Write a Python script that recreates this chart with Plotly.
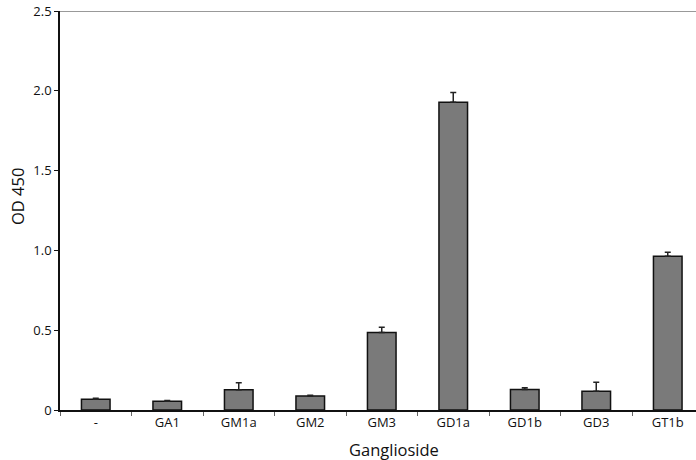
import plotly.graph_objects as go

categories = ["-", "GA1", "GM1a", "GM2", "GM3", "GD1a", "GD1b", "GD3", "GT1b"]
od_values = [0.068, 0.055, 0.127, 0.088, 0.485, 1.928, 0.128, 0.117, 0.963]
err_plus = [0.005, 0.004, 0.043, 0.004, 0.033, 0.062, 0.012, 0.057, 0.025]
y_ticks = [0, 0.5, 1.0, 1.5, 2.0, 2.5]
y_tick_labels = ["0", "0.5", "1.0", "1.5", "2.0", "2.5"]

fig = go.Figure()
fig.add_trace(go.Bar(
    x=categories, y=od_values,
    marker=dict(color="#7a7a7a", line=dict(color="#111111", width=1.5)),
    width=0.4,
    error_y=dict(type="data", symmetric=False, array=err_plus,
                 arrayminus=[0] * len(err_plus),
                 color="#222222", thickness=1.5, width=3),
))

font = "Open Sans, Lato, sans-serif"
fig.update_layout(
    width=696, height=460,
    margin=dict(l=60, r=0, t=11, b=50),
    paper_bgcolor="white", plot_bgcolor="white",
    showlegend=False,
    font=dict(family=font, size=13, color="#111111"),
    xaxis=dict(
        type="category",
        range=[-0.5, -0.5 + 636 / 71.5],
        showline=True, linecolor="#111111", linewidth=1.5,
        ticks="outside", tickson="boundaries", ticklen=4, tickcolor="#666666",
        tickfont=dict(size=13),
        showgrid=False, zeroline=False,
    ),
    yaxis=dict(
        range=[0, 2.5],
        tickvals=y_ticks, ticktext=y_tick_labels,
        showline=True, linecolor="#111111", linewidth=1.5,
        ticks="outside", ticklen=4, tickcolor="#111111",
        tickfont=dict(size=13),
        showgrid=False, zeroline=False,
    ),
    shapes=[dict(type="line", xref="paper", yref="y", x0=0, x1=1, y0=2.5, y1=2.5,
                 line=dict(color="#777777", width=1.5))],
    annotations=[
        dict(text="Ganglioside", xref="paper", yref="paper", x=0.525, y=-0.1,
             xanchor="center", yanchor="middle", showarrow=False,
             font=dict(size=16.5)),
        dict(text="OD 450", xref="paper", yref="paper", x=-0.0668, y=0.535,
             xanchor="center", yanchor="middle", showarrow=False, textangle=-90,
             font=dict(size=16.5)),
    ],
)

fig.write_html("out.html")
